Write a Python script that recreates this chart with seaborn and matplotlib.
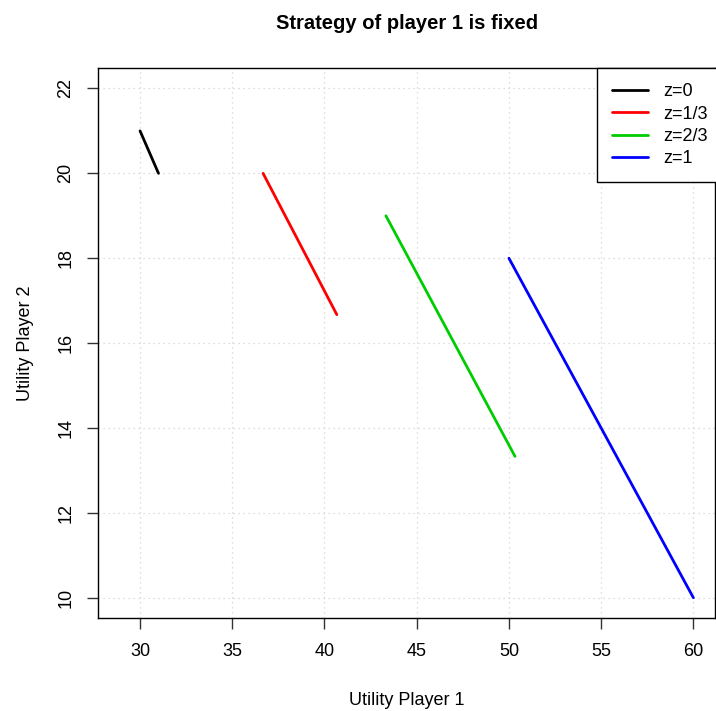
import numpy as np
import pandas as pd
import matplotlib
matplotlib.use("Agg")
import matplotlib.pyplot as plt
import seaborn as sns

# Utility pairs for each value of z (segment end points)
z_labels = ["z=0", "z=1/3", "z=2/3", "z=1"]
u1_start = [30.0, 36.67, 43.33, 50.0]
u1_end = [31.0, 40.67, 50.33, 60.0]
u2_start = [21.0, 20.0, 19.0, 18.0]
u2_end = [20.0, 16.67, 13.33, 10.0]
line_colors = ["#000000", "#FF0000", "#00CD00", "#0000FF"]

x_ticks = [30, 35, 40, 45, 50, 55, 60]
y_ticks = [10, 12, 14, 16, 18, 20, 22]

rows = []
for lab, xs, xe, ys, ye in zip(z_labels, u1_start, u1_end, u2_start, u2_end):
    rows.append({"z": lab, "u1": xs, "u2": ys})
    rows.append({"z": lab, "u1": xe, "u2": ye})
df = pd.DataFrame(rows)

sns.set_style("white")
plt.rcParams["font.family"] = ["Liberation Sans", "DejaVu Sans"]
plt.rcParams["text.color"] = "black"
plt.rcParams["axes.labelcolor"] = "black"
plt.rcParams["xtick.color"] = "black"
plt.rcParams["ytick.color"] = "black"

fig = plt.figure(figsize=(7.16, 7.11), dpi=100)
ax = fig.add_axes([98 / 716, 1 - 618.3 / 711, (715.3 - 98) / 716, (618.3 - 68.3) / 711])

palette = dict(zip(z_labels, line_colors))
sns.lineplot(data=df, x="u1", y="u2", hue="z", hue_order=z_labels,
             palette=palette, sort=False, estimator=None, units="z",
             linewidth=2.0, ax=ax, legend=False)

ax.set_xlim(27.72, 61.19)
ax.set_ylim(9.515, 22.475)
ax.set_xticks(x_ticks)
ax.set_yticks(y_ticks)
ax.set_xticklabels([str(t) for t in x_ticks], fontsize=13, color="black")
ax.set_yticklabels([str(t) for t in y_ticks], fontsize=13, rotation=90, va="center",
                   color="black")
ax.tick_params(axis="both", direction="out", length=8, width=1.0, color="#333333",
               bottom=True, left=True)
ax.tick_params(axis="x", pad=10)
ax.tick_params(axis="y", pad=9)

ax.grid(True, linestyle=(0, (1, 3)), color="#d3d3d3", linewidth=0.9)
ax.set_axisbelow(True)
for sp in ax.spines.values():
    sp.set_visible(True)
    sp.set_color("black")
    sp.set_linewidth(1.0)

ax.set_xlabel("Utility Player 1", fontsize=13, labelpad=23, color="black")
ax.set_ylabel("Utility Player 2", fontsize=13, labelpad=17, color="black")
ax.set_title("Strategy of player 1 is fixed", fontsize=14.5, fontweight="bold",
             pad=28, color="black")

handles = [plt.Line2D([0], [0], color=c, linewidth=2.0) for c in line_colors]
leg = ax.legend(handles, z_labels, loc="upper right", bbox_to_anchor=(1.012, 1.0),
                fontsize=13, frameon=True,
                fancybox=False, framealpha=1.0, edgecolor="black",
                borderaxespad=0.0, handlelength=2.0, handletextpad=0.85,
                labelspacing=0.3, borderpad=0.82)
leg.get_frame().set_linewidth(1.0)
for t in leg.get_texts():
    t.set_color("black")

fig.savefig("out.png", dpi=100)
